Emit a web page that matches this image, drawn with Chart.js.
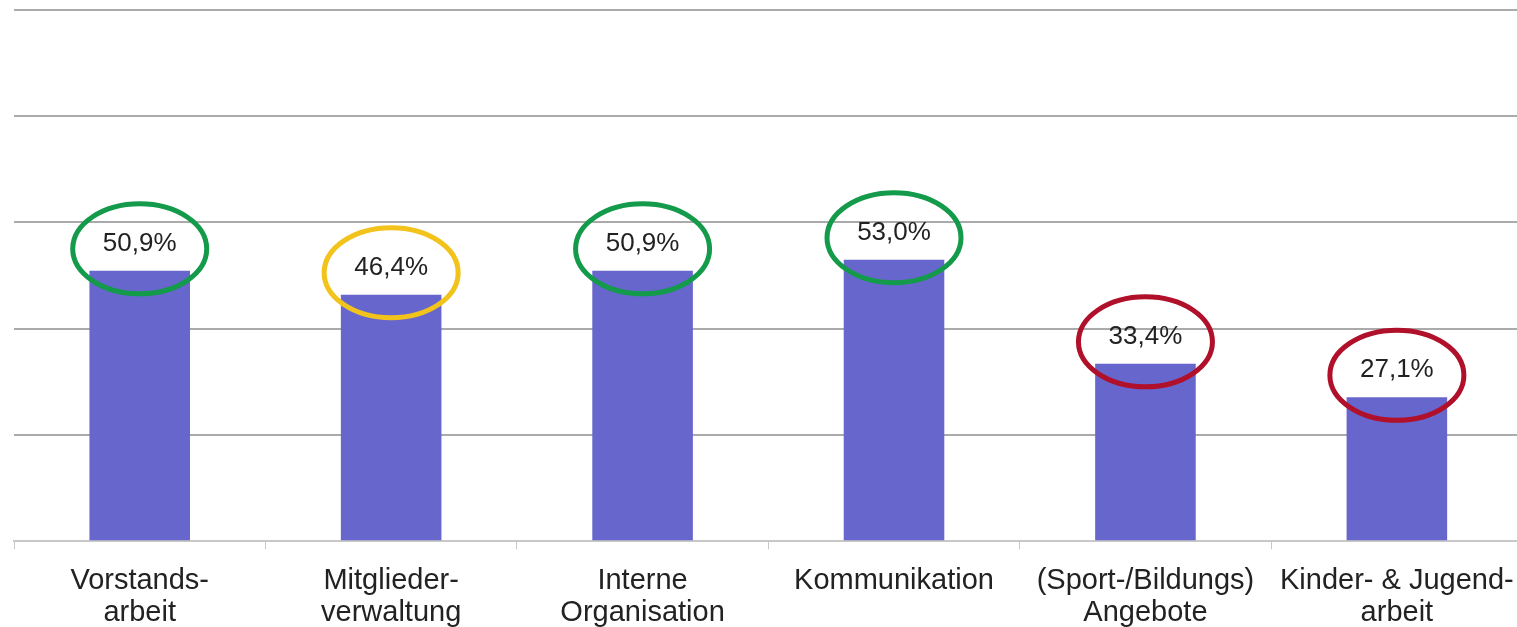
<!DOCTYPE html>
<html>
<head>
<meta charset="utf-8">
<script src="https://cdn.jsdelivr.net/npm/chart.js@4/dist/chart.umd.min.js"></script>
<style>
html,body{margin:0;padding:0;background:#fff;overflow:hidden;width:1517px;height:627px;}
#outer{position:absolute;left:0;top:0;width:1517px;height:627px;overflow:hidden;}
canvas{display:block;position:absolute;left:0;top:0;}
</style>
</head>
<body>
<div id="outer">
<canvas id="c" width="1530" height="645" style="width:1530px;height:645px;"></canvas>
</div>
<script>
const categories = [
  ["Vorstands-", "arbeit"],
  ["Mitglieder-", "verwaltung"],
  ["Interne", "Organisation"],
  ["Kommunikation"],
  ["(Sport-/Bildungs)", "Angebote"],
  ["Kinder- & Jugend-", "arbeit"]
];
const values = [50.9, 46.4, 50.9, 53.0, 33.4, 27.1];
const valueLabels = ["50,9%", "46,4%", "50,9%", "53,0%", "33,4%", "27,1%"];
const ringColors = ["#139a4a", "#f2c31a", "#139a4a", "#139a4a", "#b0102a", "#b0102a"];

const labelPlugin = {
  id: 'labelRings',
  afterDatasetsDraw(chart) {
    const ctx = chart.ctx;
    const meta = chart.getDatasetMeta(0);
    ctx.save();
    meta.data.forEach((bar, i) => {
      const x = bar.x, y = bar.y;
      ctx.font = '26px "Liberation Sans", Arial, sans-serif';
      ctx.fillStyle = '#222';
      ctx.textAlign = 'center';
      ctx.textBaseline = 'middle';
      ctx.fillText(valueLabels[i], x, y - 27);
      ctx.beginPath();
      ctx.ellipse(x, y - 22, 67, 45, 0, 0, Math.PI * 2);
      ctx.lineWidth = 5;
      ctx.strokeStyle = ringColors[i];
      ctx.stroke();
    });
    ctx.restore();
  }
};

new Chart(document.getElementById('c'), {
  type: 'bar',
  data: {
    labels: categories,
    datasets: [{
      data: values,
      backgroundColor: '#6666cc',
      barPercentage: 0.4,
      categoryPercentage: 1.0
    }]
  },
  options: {
    responsive: false,
    animation: false,
    devicePixelRatio: 1,
    layout: { padding: { top: 10, left: 14, right: 3, bottom: 0 } },
    plugins: { legend: { display: false }, tooltip: { enabled: false } },
    scales: {
      x: {
        offset: true,
        grid: { display: true, drawOnChartArea: false, drawTicks: true, tickLength: 8, color: '#c8c8c8', offset: true },
        border: { display: true, color: '#c8c8c8', width: 2 },
        ticks: {
          color: '#222',
          font: { family: '"Liberation Sans", Arial, sans-serif', size: 29, lineHeight: 1.1 },
          padding: 16,
          maxRotation: 0,
          autoSkip: false
        }
      },
      y: {
        min: 0, max: 100,
        ticks: { display: false, stepSize: 20 },
        border: { display: false },
        grid: {
          drawTicks: false,
          lineWidth: 2,
          color: (c) => c.tick && c.tick.value === 0 ? 'rgba(0,0,0,0)' : '#aaaaaa'
        }
      }
    }
  },
  plugins: [labelPlugin]
});
</script>
</body>
</html>
